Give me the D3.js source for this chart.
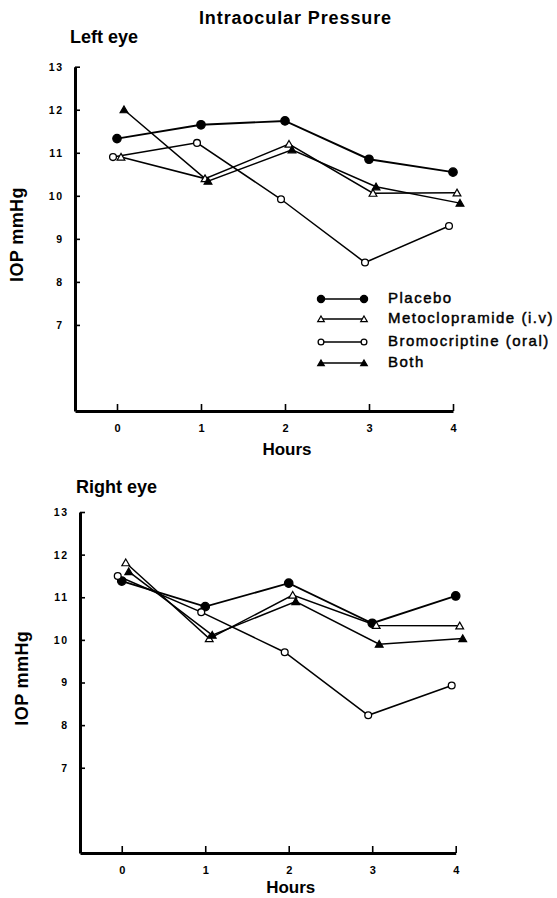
<!DOCTYPE html>
<html><head><meta charset="utf-8">
<script src="https://cdn.jsdelivr.net/npm/d3@7"></script>
<style>body{margin:0;background:#fff}svg{display:block}</style>
</head><body>
<script>
// ---- data ----
const hours = [0, 1, 2, 3, 4];
const xTicks = [0, 1, 2, 3, 4];
const yTicks = [7, 8, 9, 10, 11, 12, 13];
const seriesNames = ["Placebo", "Metoclopramide (i.v)", "Bromocriptine (oral)", "Both"];
const panelTitles = ["Left eye", "Right eye"];

const leftPlacebo = [11.33, 11.65, 11.74, 10.85, 10.55];
const leftMeto    = [10.90, 10.40, 11.20, 10.06, 10.07];
const leftBromo   = [10.90, 11.23, 9.92, 8.45, 9.30];
const leftBoth    = [12.00, 10.34, 11.07, 10.21, 9.83];

const rightPlacebo = [11.38, 10.78, 11.33, 10.39, 11.03];
const rightMeto    = [11.81, 10.03, 11.05, 10.34, 10.33];
const rightBromo   = [11.50, 10.65, 9.71, 8.23, 8.93];
const rightBoth    = [11.60, 10.11, 10.90, 9.90, 10.03];

// ---- layout / style ----
const W = 557, H = 898;
const FONT = "'Liberation Sans', Arial, Helvetica, sans-serif";
const svg = d3.select("body").append("svg").attr("width", W).attr("height", H);

const styles = [
  {type: "circle", fill: "#000", r: 4.2, lw: 1.9, dx: 0},
  {type: "triangle", fill: "#fff", size: 26, lw: 1.5, dx: 4},
  {type: "circle", fill: "#fff", r: 3.4, lw: 1.5, dx: -4},
  {type: "triangle", fill: "#000", size: 26, lw: 1.5, dx: 7}
];

svg.append("text").attr("x", 295.5).attr("y", 24)
  .attr("text-anchor", "middle").attr("font-family", FONT)
  .attr("font-size", 18).attr("font-weight", "bold").attr("letter-spacing", 0.9)
  .text("Intraocular Pressure");

const panels = [
  {title: panelTitles[0], series: [leftPlacebo, leftMeto, leftBromo, leftBoth],
   xr: [75, 453], yr: [411, 66.7], titleX: 70, titleY: 43, ylabX: 23, hoursDy: 44, legend: true},
  {title: panelTitles[1], series: [rightPlacebo, rightMeto, rightBromo, rightBoth],
   xr: [80, 455.7], yr: [853, 512], titleX: 76, titleY: 493, ylabX: 28, hoursDy: 40, legend: false}
];

function drawMarker(g, st, x, y, scale) {
  const k = scale || 1;
  if (st.type === "circle") {
    g.append("circle").attr("cx", x).attr("cy", y).attr("r", st.r * k)
      .attr("fill", st.fill).attr("stroke", "#000").attr("stroke-width", 1.3);
  } else {
    g.append("path").attr("transform", `translate(${x},${y + 0.8})`)
      .attr("d", d3.symbol(d3.symbolTriangle, st.size * k * k)())
      .attr("fill", st.fill).attr("stroke", "#000").attr("stroke-width", 1.2)
      .attr("stroke-linejoin", "miter");
  }
}

panels.forEach(p => {
  const x = d3.scaleLinear().domain([-0.5, 4]).range(p.xr);
  const y = d3.scaleLinear().domain([5, 13]).range(p.yr);
  const g = svg.append("g");

  // y axis
  const ya = g.append("g").attr("transform", `translate(${p.xr[0]},0)`)
    .call(d3.axisLeft(y).tickValues(yTicks).tickFormat(d3.format("d"))
      .tickSizeInner(-5).tickSizeOuter(0).tickPadding(11));
  ya.select(".domain").attr("stroke-width", 3).attr("stroke", "#000");
  ya.selectAll(".tick line").attr("stroke-width", 1.6);
  ya.selectAll(".tick text").attr("font-family", FONT).attr("font-size", 10.5)
    .attr("font-weight", "bold").attr("letter-spacing", 1.8).attr("fill", "#000");

  // x axis
  const xa = g.append("g").attr("transform", `translate(0,${p.yr[0]})`)
    .call(d3.axisBottom(x).tickValues(xTicks).tickFormat(d3.format("d"))
      .tickSizeInner(-7).tickSizeOuter(0).tickPadding(13));
  xa.select(".domain").attr("stroke-width", 3).attr("stroke", "#000");
  xa.selectAll(".tick line").attr("stroke-width", 1.6);
  xa.selectAll(".tick text").attr("font-family", FONT).attr("font-size", 11)
    .attr("font-weight", "bold").attr("fill", "#000");

  // labels
  g.append("text").attr("x", p.titleX).attr("y", p.titleY)
    .attr("font-family", FONT).attr("font-size", 18).attr("font-weight", "bold")
    .text(p.title);
  g.append("text").attr("x", x(2) + 2).attr("y", p.yr[0] + p.hoursDy)
    .attr("text-anchor", "middle").attr("font-family", FONT).attr("font-size", 17)
    .attr("font-weight", "bold").text("Hours");
  g.append("text")
    .attr("transform", `translate(${p.ylabX},${y(9.1)}) rotate(-90)`)
    .attr("text-anchor", "middle").attr("font-family", FONT).attr("font-size", 18)
    .attr("font-weight", "bold").attr("letter-spacing", 0.4).text("IOP mmHg");

  // lines
  p.series.forEach((vals, i) => {
    const st = styles[i];
    const line = d3.line().x((d, j) => x(hours[j]) + st.dx).y(d => y(d));
    g.append("path").datum(vals).attr("d", line).attr("fill", "none")
      .attr("stroke", "#000").attr("stroke-width", st.lw);
  });
  // markers
  p.series.forEach((vals, i) => {
    const st = styles[i];
    vals.forEach((v, j) => drawMarker(g, st, x(hours[j]) + st.dx, y(v)));
  });

  if (p.legend) {
    const rows = [299, 319, 342, 363];
    const lg = g.append("g");
    seriesNames.forEach((name, i) => {
      const st = styles[i];
      lg.append("line").attr("x1", 321).attr("x2", 364).attr("y1", rows[i]).attr("y2", rows[i])
        .attr("stroke", "#000").attr("stroke-width", 1.5);
      drawMarker(lg, st, 321, rows[i], 0.85);
      drawMarker(lg, st, 364, rows[i], 0.85);
      lg.append("text").attr("x", 388).attr("y", rows[i] - 2)
        .attr("dominant-baseline", "central").attr("font-family", FONT)
        .attr("font-size", 15).attr("letter-spacing", 1.5)
        .attr("stroke", "#000").attr("stroke-width", 0.45)
        .text(name);
    });
  }
});
</script>
</body></html>
